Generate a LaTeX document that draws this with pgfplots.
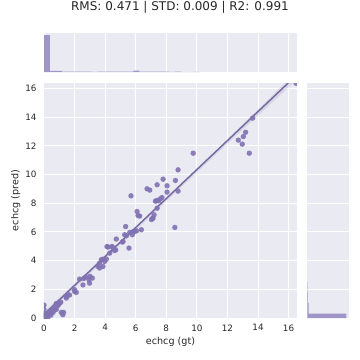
\documentclass[border=0pt]{standalone}
\usepackage{pgfplots}
\pgfplotsset{compat=1.18}
\usepackage{fontspec}
\setmainfont{DejaVu Sans}
\definecolor{sbbg}{HTML}{EAEAF2}
\definecolor{sbpurple}{HTML}{8172B2}
\definecolor{sbtext}{HTML}{262626}
\colorlet{histpurple}{sbpurple!70!sbbg}

\pgfplotsset{
  sbaxis/.style={
    scale only axis,
    axis background/.style={fill=sbbg},
    axis line style={draw=none},
    major tick length=0pt,
    tick style={draw=none},
    major grid style={white, line width=1pt},
    tick label style={font=\fontsize{8.8}{10}\selectfont, text=sbtext},
    label style={font=\fontsize{9.6}{11}\selectfont, text=sbtext},
    /pgf/number format/assume math mode=true,
    clip=true,
  },
}

\begin{document}
\begin{tikzpicture}
\path[use as bounding box] (0,0) rectangle (360pt,360pt);

% main scatter + regression
\begin{axis}[
  sbaxis,
  at={(44pt,42pt)}, anchor=south west,
  width=253pt, height=235pt,
  xmin=0, xmax=16.55, ymin=0, ymax=16.37,
  xtick={0,2,...,16}, ytick={0,2,...,16},
  grid=major,
  clip marker paths=true,
  xlabel={echcg (gt)}, ylabel={echcg (pred)},
  xticklabel style={yshift=-3pt},
  yticklabel style={xshift=-4pt},
  xlabel style={yshift=1pt},
  ylabel style={yshift=-2pt},
]
% confidence band
\addplot[fill=sbpurple, fill opacity=0.18, draw=none] coordinates {
  (0,0.45) (4,4.35) (8,8.37) (12,12.45) (16.55,17.2)
  (16.55,16.6) (12,12.15) (8,8.13) (4,4.1) (0,0.05)} -- cycle;
% regression line
\addplot[sbpurple!90!black, line width=1.4pt] coordinates {(0,0.25) (16.55,16.95)};
% scatter
\addplot[only marks, mark=*, mark size=2.7pt, color=sbpurple,
  mark options={fill=sbpurple, draw opacity=0, fill opacity=0.9}] coordinates {
  (0,0) (0,0.1) (0,0.3) (0,0.6) (0,0.9) (0.1,0.05) (0.15,0.3) (0.2,0.15)
  (0.3,0.25) (0.36,0.46) (0.4,0.3) (0.5,0.45) (0.55,0.55) (0.6,0.4)
  (0.69,0.7) (0.75,0.65) (0.8,0.6) (0.8,1.0) (0.9,0.86) (0.95,0.95)
  (1.0,1.0) (1.1,1.1) (1.13,0.39) (1.23,0.23) (1.28,0.39) (0.05,0.2)
  (0.25,0.0) (0.45,0.2)
  (1.46,1.39) (1.46,1.5) (1.56,1.62) (1.67,1.6) (2.0,1.97) (2.0,1.85)
  (2.11,1.78) (2.33,2.71) (2.55,2.3) (2.6,2.75) (2.72,2.85) (2.94,2.67)
  (2.98,2.43) (3.16,2.78) (3.0,2.9)
  (3.53,3.59) (3.64,3.48) (3.64,3.83) (3.75,4.06) (3.86,4.1) (3.86,3.59)
  (3.97,3.94) (4.08,4.1) (4.12,4.98) (4.19,4.94) (4.3,4.52) (4.45,4.98)
  (4.47,4.94) (4.62,4.7) (4.69,4.75) (4.73,5.5) (5.13,5.29) (5.17,5.33)
  (5.28,5.8) (5.34,6.37) (5.39,5.73) (5.56,4.87) (5.61,5.96) (5.78,5.8)
  (5.85,6.03) (5.93,6.03) (6.05,6.07) (6.09,7.42) (6.15,7.14) (6.26,7.1)
  (6.37,6.15) (5.69,8.51)
  (6.74,9.0) (6.92,8.91) (7.03,6.86) (7.1,6.93) (7.13,6.96) (7.2,7.19)
  (7.29,8.14) (7.36,8.18) (7.40,9.28) (7.40,7.65) (7.5,8.16) (7.6,8.3)
  (7.72,8.39) (7.79,9.67) (8.05,9.21) (8.05,8.77) (8.56,6.31) (8.6,9.58)
  (8.77,8.84) (8.77,10.32)
  (9.76,11.48) (12.71,12.39) (12.97,12.11) (13.04,12.64) (13.19,12.94)
  (13.43,11.48) (13.65,13.92) (16.49,16.35)
};
\end{axis}

% top marginal histogram
\begin{axis}[
  sbaxis,
  at={(44pt,288pt)}, anchor=south west,
  width=253pt, height=39pt,
  xmin=0, xmax=16.55, ymin=0, ymax=1060,
  xtick={0,2,...,16}, xticklabels={}, ytick=\empty,
  xmajorgrids=true,
]
\addplot[ybar interval, fill=histpurple, draw=none] coordinates {
  (0,1000) (0.39,28) (0.78,28) (1.17,10) (1.56,8) (1.95,8) (2.34,10)
  (2.73,8) (3.12,6) (3.51,10) (3.9,10) (4.29,8) (4.68,8) (5.07,8)
  (5.46,10) (5.85,38) (6.24,8) (6.63,8) (7.02,10) (7.41,10) (7.8,8)
  (8.19,6) (8.58,8) (8.97,0) (9.36,0) (9.75,4) (10.14,0)
};
\end{axis}

% right marginal histogram
\begin{axis}[
  sbaxis,
  at={(307.5pt,42pt)}, anchor=south west,
  width=41.5pt, height=235pt,
  ymin=0, ymax=16.37, xmin=0, xmax=1070,
  ytick={0,2,...,16}, yticklabels={}, xtick=\empty,
  ymajorgrids=true,
]
\addplot[xbar interval, fill=histpurple, draw=none] coordinates {
  (1000,0) (30,0.3) (8,1.05) (6,1.8) (0,2.5)
};
\end{axis}

\node[font=\fontsize{12}{14}\selectfont, text=sbtext] at (180pt,353pt)
  {RMS: 0.471 | STD: 0.009 | R2: 0.991};
\end{tikzpicture}
\end{document}
